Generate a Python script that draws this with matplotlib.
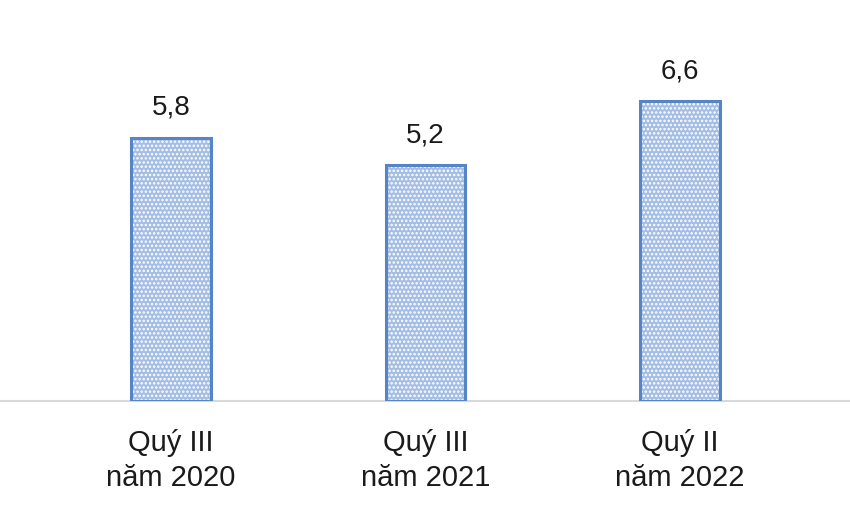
import matplotlib
matplotlib.use("Agg")
import matplotlib.pyplot as plt

categories = ["Quý III\nnăm 2020", "Quý III\nnăm 2021", "Quý II\nnăm 2022"]
values = [5.8, 5.2, 6.6]
value_labels = ["5,8", "5,2", "6,6"]

plt.rcParams['font.family'] = ['Liberation Sans', 'DejaVu Sans']
plt.rcParams['hatch.linewidth'] = 1.2

fig = plt.figure(figsize=(8.5, 5.12), dpi=100)
ax = fig.add_axes([0, 1 - 401/512, 1, 401/512])

x = list(range(len(categories)))
w = 0.314
ax.bar(x, values, width=w, color='#a3bde4', edgecolor='white', hatch='....', linewidth=0, zorder=2)
ax.bar(x, values, width=w, fill=False, edgecolor='#5585c5', linewidth=2.2, zorder=3)

for xi, v, lab in zip(x, values, value_labels):
    ax.annotate(lab, (xi, v), xytext=(0, 12), textcoords='offset points',
                ha='center', va='bottom', fontsize=20, color='#1a1a1a')

ax.set_xlim(-0.672, 2.668)
ax.set_ylim(0, 400/45.3)
ax.set_yticks([])
ax.set_xticks(x)
ax.set_xticklabels(categories, fontsize=21, color='#1a1a1a', linespacing=1.32)
ax.tick_params(axis='x', length=0, pad=20)
for s in ['top', 'left', 'right']:
    ax.spines[s].set_visible(False)
ax.spines['bottom'].set_color('#d9d9d9')
ax.spines['bottom'].set_linewidth(1.5)

fig.savefig("out.png", dpi=100)
